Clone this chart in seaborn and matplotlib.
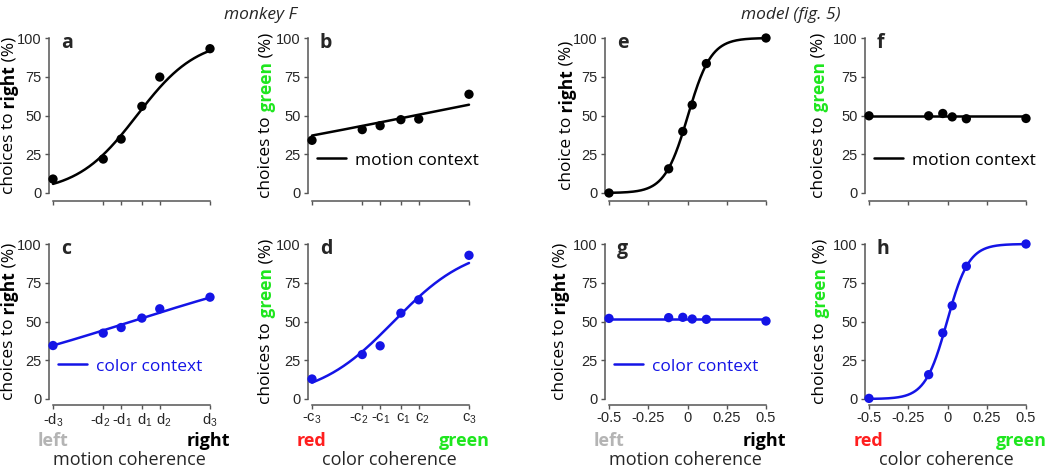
import numpy as np
import pandas as pd
import seaborn as sns
import matplotlib.pyplot as plt
from matplotlib.lines import Line2D
from matplotlib.transforms import ScaledTranslation

# stimulus levels
monkey_x = [-0.5, -0.18, -0.066, 0.066, 0.18, 0.5]
model_x = [-0.5, -0.12, -0.03, 0.03, 0.12, 0.5]
model_ticks = [-0.5, -0.25, 0, 0.25, 0.5]
model_ticklabels = ['-0.5', '-0.25', '0', '0.25', '0.5']
motion_ticklabels = ['-d$_3$', '-d$_2$', '-d$_1$', 'd$_1$', 'd$_2$', 'd$_3$']
color_ticklabels = ['-c$_3$', '-c$_2$', '-c$_1$', 'c$_1$', 'c$_2$', 'c$_3$']
# small sideways nudges (px) so the crowded monkey tick labels don't collide
label_nudge = [0, -3, 1, 2.5, 4, 0]

# % choices, one list per panel
a_vals = [9.0, 21.9, 34.8, 55.9, 74.8, 93.1]
b_vals = [34.0, 40.9, 43.4, 47.3, 47.7, 63.7]
c_vals = [34.5, 42.5, 46.1, 52.2, 58.2, 65.7]
d_vals = [12.9, 28.7, 34.3, 55.4, 64.0, 92.7]
e_vals = [0.0, 15.6, 39.7, 56.8, 83.5, 100.0]
f_vals = [49.8, 49.8, 51.3, 49.1, 47.9, 48.1]
g_vals = [52.0, 52.5, 52.7, 51.6, 51.4, 50.3]
h_vals = [0.4, 15.7, 42.6, 60.2, 85.6, 100.0]

# fitted curves: floor, range, midpoint, slope
a_fit = (0, 100, 0.034, 5.2)
b_fit = (0, 100, 0.154, 0.81)
c_fit = (0, 100, 0.0, 1.28)
d_fit = (0, 100, 0.02, 4.1)
e_fit = (0, 100, 0.003, 13.5)
f_fit = (49.8, 0, 0, 0)
g_fit = (51.8, 0, 0, 0)
h_fit = (0, 100, -0.003, 14.4)

BLUE = '#1414e6'
GREEN = '#1ee61e'
RED = '#ff1e1e'
GREY = '#b4b4b4'
LBL = 'Open Sans'

sns.set_style('ticks')
plt.rcParams['font.family'] = ['Liberation Sans', 'DejaVu Sans']
plt.rcParams['mathtext.fontset'] = 'custom'
plt.rcParams['mathtext.rm'] = 'Liberation Sans'
plt.rcParams['mathtext.it'] = 'Liberation Sans:italic'


def fit_curve(params, xs):
    lo, rng, mid, k = params
    return lo + rng / (1 + np.exp(-k * (xs - mid)))


def multi_ylabel(ax, parts, xpos, size=12.5):
    txt = ax.text(xpos, 0.5, parts[0][0], color=parts[0][1], fontweight=parts[0][2],
                  rotation=90, ha='center', va='bottom', transform=ax.transAxes,
                  fontsize=size, family=LBL)
    first = txt
    for s, c, w in parts[1:]:
        txt = ax.annotate(s, xy=(0, 1), xycoords=txt, va='bottom', ha='left', rotation=90,
                          color=c, fontweight=w, fontsize=size, family=LBL)
    return first, txt


lefts = [53, 312, 609, 869]
bottoms = [193, 399]
W, H = 1050, 470

right_lbl = [('choices to', 'black', 'normal'), (' right', 'black', 'bold'), (' (%)', 'black', 'normal')]
right_lbl_e = [('choice to', 'black', 'normal'), (' right', 'black', 'bold'), (' (%)', 'black', 'normal')]
green_lbl = [('choices to', 'black', 'normal'), (' green', GREEN, 'bold'), (' (%)', 'black', 'normal')]

# letter, col, row, x, vals, fit, colour, ylabel parts, ylabel x, legend
panels = [
    ('a', 0, 0, monkey_x, a_vals, a_fit, 'black', right_lbl, -0.28, None),
    ('b', 1, 0, monkey_x, b_vals, b_fit, 'black', green_lbl, -0.29, 'motion context'),
    ('c', 0, 1, monkey_x, c_vals, c_fit, BLUE, right_lbl, -0.28, 'color context'),
    ('d', 1, 1, monkey_x, d_vals, d_fit, BLUE, green_lbl, -0.29, None),
    ('e', 2, 0, model_x, e_vals, e_fit, 'black', right_lbl_e, -0.27, None),
    ('f', 3, 0, model_x, f_vals, f_fit, 'black', green_lbl, -0.32, 'motion context'),
    ('g', 2, 1, model_x, g_vals, g_fit, BLUE, right_lbl, -0.31, 'color context'),
    ('h', 3, 1, model_x, h_vals, h_fit, BLUE, green_lbl, -0.31, None),
]

fig = plt.figure(figsize=(10.5, 4.7), dpi=100)
labels = []
for letter, col, row, xs, vals, fit, colr, ylab, ylx, leg in panels:
    ax = fig.add_axes([lefts[col] / W, 1 - bottoms[row] / H, 157 / W, 155 / H])
    xx = np.linspace(-0.5, 0.5, 300)
    curve = pd.DataFrame({'x': xx, 'y': fit_curve(fit, xx)})
    pts = pd.DataFrame({'x': xs, 'y': vals})
    sns.lineplot(data=curve, x='x', y='y', color=colr, lw=1.8, ax=ax, clip_on=False, zorder=2)
    sns.scatterplot(data=pts, x='x', y='y', color=colr, s=45, edgecolor='none', ax=ax,
                    clip_on=False, zorder=3)
    ax.set_xlim(-0.5, 0.5)
    ax.set_ylim(0, 100)
    ax.set_yticks([0, 25, 50, 75, 100])
    ax.set_xlabel('')
    ax.set_ylabel('')
    monkey = col < 2
    if monkey:
        ax.set_xticks(monkey_x)
        if row == 1:
            ax.set_xticklabels(color_ticklabels if col == 1 else motion_ticklabels)
        else:
            ax.set_xticklabels([])
    else:
        ax.set_xticks(model_ticks)
        ax.set_xticklabels(model_ticklabels if row == 1 else [])
    ax.tick_params(labelsize=10.5, length=3, width=1, color='#555555', pad=2)
    for sp in ax.spines.values():
        sp.set_color('#555555')
        sp.set_linewidth(1.1)
    sns.despine(ax=ax, offset={'left': 3, 'bottom': 6 if row == 0 else 4}, trim=True)
    if monkey and row == 1:
        for lab, dx in zip(ax.get_xticklabels(), label_nudge):
            lab.set_transform(lab.get_transform() + ScaledTranslation(dx / 100, 0, fig.dpi_scale_trans))
    ax.text(0.05, 1.03, letter, transform=ax.transAxes, ha='left', va='top',
            fontsize=14, fontweight='bold', family=LBL)
    labels.append((ax, multi_ylabel(ax, ylab, ylx)))
    if leg:
        ax.legend(handles=[Line2D([], [], color=colr, lw=1.8)], labels=[leg],
                  loc='center left', bbox_to_anchor=(0.03, 0.21), frameon=False,
                  handlelength=1.7, handletextpad=0.5, borderaxespad=0, borderpad=0,
                  prop={'family': LBL, 'size': 12.5}, labelcolor=colr)
    if row == 1:
        lo_txt, hi_txt = ('red', 'green') if col in (1, 3) else ('left', 'right')
        lo_col, hi_col = (RED, GREEN) if col in (1, 3) else (GREY, 'black')
        ax.text(-0.1, -0.27, lo_txt, color=lo_col, fontweight='bold', family=LBL, fontsize=13,
                ha='left', va='center', transform=ax.transAxes)
        ax.text(1.13, -0.27, hi_txt, color=hi_col, fontweight='bold', family=LBL, fontsize=13,
                ha='right', va='center', transform=ax.transAxes)
        name = 'color coherence' if col in (1, 3) else 'motion coherence'
        ax.text(0.49, -0.395, name, family=LBL, fontsize=13, ha='center', va='center',
                transform=ax.transAxes)

fig.text(260 / W, 1 - 15 / H, 'monkey F', style='italic', family=LBL, fontsize=12.5,
         ha='center', va='center')
fig.text(791 / W, 1 - 15 / H, 'model (fig. 5)', style='italic', family=LBL, fontsize=12.5,
         ha='center', va='center')

# centre the multi-part y labels on their axes
fig.canvas.draw()
r = fig.canvas.get_renderer()
for ax, (first, last) in labels:
    y0 = first.get_window_extent(r).y0
    y1 = last.get_window_extent(r).y1
    bb = ax.get_window_extent(r)
    target = (bb.y0 + bb.y1) / 2
    first.set_y(0.5 + (target - (y0 + y1) / 2) / bb.height)

fig.savefig('out.png', dpi=100)
